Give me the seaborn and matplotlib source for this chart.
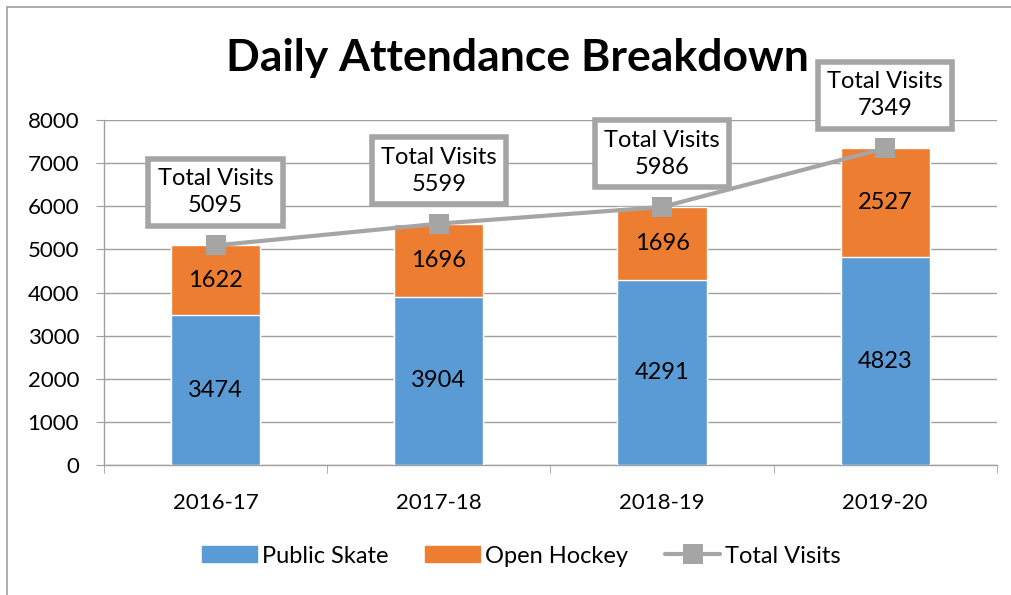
import numpy as np
import pandas as pd
import matplotlib.pyplot as plt
import seaborn as sns
from matplotlib.patches import Patch
from matplotlib.lines import Line2D

seasons = ["2016-17", "2017-18", "2018-19", "2019-20"]
public_skate = [3474, 3904, 4291, 4823]
open_hockey = [1622, 1696, 1696, 2527]
total_visits = [5095, 5599, 5986, 7349]

BLUE = "#5B9BD5"
ORANGE = "#ED7D31"
GRAY = "#A5A5A5"
AXIS_GRAY = "#A0A0A0"

sns.set_style("white")
plt.rcParams['font.family'] = ['Lato', 'DejaVu Sans']
plt.rcParams['font.size'] = 16
plt.rcParams['text.color'] = 'black'
plt.rcParams['xtick.color'] = 'black'
plt.rcParams['ytick.color'] = 'black'

df = pd.DataFrame({"season": seasons, "public": public_skate, "hockey": open_hockey,
                   "total": total_visits})
df["stack"] = df["public"] + df["hockey"]
df["pos"] = np.arange(len(df))

fig = plt.figure(figsize=(10.12, 5.95), dpi=100)
ax = fig.add_axes([0.1028, 0.2185, 0.985 - 0.1028, 0.798 - 0.2185])

# stacked bars: full stack in orange, public skate drawn over it
sns.barplot(data=df, x="season", y="stack", color=ORANGE, width=0.4, saturation=1, ax=ax, zorder=2)
sns.barplot(data=df, x="season", y="public", color=BLUE, width=0.4, saturation=1, ax=ax, zorder=3)

# total visits line
sns.lineplot(data=df, x="pos", y="total", color=GRAY, linewidth=3, marker="s", markersize=14,
             markeredgewidth=0, ax=ax, zorder=4)

for i, row in df.iterrows():
    ax.text(i, row["public"] / 2, f"{row['public']}", ha="center", va="center", fontsize=17, zorder=5)
    ax.text(i, row["public"] + row["hockey"] / 2, f"{row['hockey']}", ha="center", va="center",
            fontsize=17, zorder=5)
    ax.annotate(f"Total Visits\n{row['total']}", xy=(i, row["total"]), xytext=(0, 21),
                textcoords="offset points", ha="center", va="bottom", fontsize=17,
                linespacing=1.35, zorder=6,
                bbox=dict(boxstyle="square,pad=0.4", fc="white", ec=GRAY, lw=4))

ax.set_xlim(-0.5, 3.5)
ax.set_ylim(0, 8000)
ax.set_yticks(range(0, 8001, 1000))
ax.yaxis.grid(True, color=AXIS_GRAY, linewidth=1, zorder=0)
ax.set_axisbelow(True)
ax.set_xlabel("")
ax.set_ylabel("")
ax.tick_params(axis="x", length=0, pad=20, labelsize=16)
ax.tick_params(axis="y", length=6, color=AXIS_GRAY, pad=12, labelsize=16, left=True)
ax.set_xticks([-0.5, 0.5, 1.5, 2.5, 3.5], minor=True)
ax.tick_params(axis="x", which="minor", length=6, color=AXIS_GRAY, bottom=True)
for side in ["top", "right"]:
    ax.spines[side].set_visible(False)
for side in ["left", "bottom"]:
    ax.spines[side].set_color(AXIS_GRAY)
    ax.spines[side].set_linewidth(1)

fig.text(0.511, 0.9025, "Daily Attendance Breakdown", ha="center", va="center",
         fontsize=32, fontweight="bold")

handles = [Patch(color=BLUE, label="Public Skate"),
           Patch(color=ORANGE, label="Open Hockey"),
           Line2D([], [], color=GRAY, lw=3, marker="s", markersize=14, markeredgewidth=0,
                  label="Total Visits")]
fig.legend(handles=handles, loc="center", bbox_to_anchor=(0.515, 0.0655), ncol=3, frameon=False,
           fontsize=17, handlelength=2.33, handleheight=0.64, columnspacing=1.57, handletextpad=0.2)

# outer chart frame (only top and left edges visible in the crop)
fig.add_artist(Line2D([0.007, 0.007], [0, 0.988], transform=fig.transFigure, color=AXIS_GRAY, lw=1.2))
fig.add_artist(Line2D([0.007, 1.0], [0.988, 0.988], transform=fig.transFigure, color=AXIS_GRAY, lw=1.2))

fig.savefig("out.png", dpi=100)
